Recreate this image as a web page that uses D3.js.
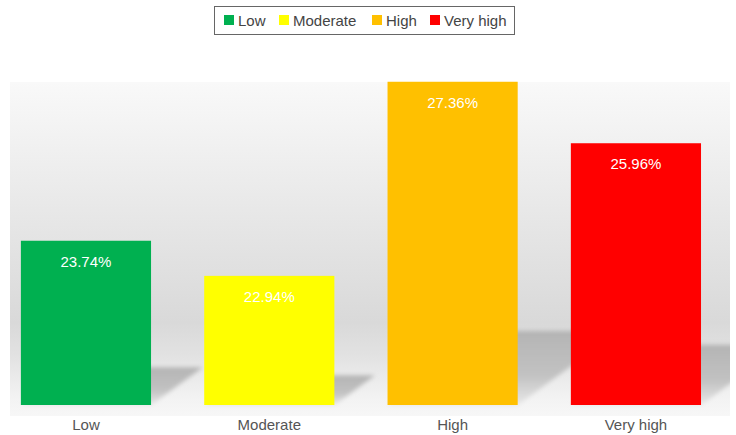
<!DOCTYPE html>
<html>
<head>
<meta charset="utf-8">
<script src="https://cdn.jsdelivr.net/npm/d3@7"></script>
<style>
  body { margin: 0; background: #fff; }
  svg { display: block; font-family: "Liberation Sans", Arial, sans-serif; }
</style>
</head>
<body>
<svg width="736" height="435"></svg>
<script>
var categories = ["Low", "Moderate", "High", "Very high"];
var values = [23.74, 22.94, 27.36, 25.96];
var colors = ["#00b050", "#ffff00", "#ffc000", "#ff0000"];

var svg = d3.select("svg"),
    plot = {left: 10, right: 730, top: 82, bottom: 416},
    baseY = 405;

var x = d3.scaleBand()
    .domain(categories)
    .range([-5.7, 727.6])
    .paddingInner(0.29)
    .paddingOuter(0.145);

var y = d3.scaleLinear()
    .domain([20, 27.4])
    .range([baseY, 80]);

var defs = svg.append("defs");

var bg = defs.append("linearGradient")
    .attr("id", "bg").attr("x1", 0).attr("y1", 0).attr("x2", 0).attr("y2", 1);
[[0, "#f9f9f9"], [0.72, "#d9d9d9"], [0.82, "#e2e2e2"], [0.95, "#f3f3f3"], [1, "#f7f7f7"]]
  .forEach(function(s) { bg.append("stop").attr("offset", s[0]).attr("stop-color", s[1]); });

var sh = defs.append("linearGradient")
    .attr("id", "sh").attr("x1", 0).attr("y1", 0).attr("x2", 0).attr("y2", 1);
[[0, "#b4b4b4"], [0.6, "#c2c2c2"], [1, "#e8e8e8"]]
  .forEach(function(s) { sh.append("stop").attr("offset", s[0]).attr("stop-color", s[1]); });

defs.append("filter").attr("id", "blur")
    .attr("x", -0.2).attr("y", -0.2).attr("width", 1.4).attr("height", 1.4)
  .append("feGaussianBlur").attr("stdDeviation", 2);

defs.append("clipPath").attr("id", "clip")
  .append("rect")
    .attr("x", plot.left).attr("y", plot.top)
    .attr("width", plot.right - plot.left).attr("height", plot.bottom - plot.top);

svg.append("rect")
    .attr("x", plot.left).attr("y", plot.top)
    .attr("width", plot.right - plot.left).attr("height", plot.bottom - plot.top)
    .attr("fill", "url(#bg)");

// shadows: bar squashed and sheared to the right
var g = svg.append("g").attr("clip-path", "url(#clip)");
g.selectAll("path.shadow")
    .data(values)
  .enter().append("path")
    .attr("class", "shadow")
    .attr("fill", "url(#sh)")
    .attr("filter", "url(#blur)")
    .attr("d", function(d, i) {
      var x0 = x(categories[i]), x1 = x0 + x.bandwidth(),
          h = (baseY - y(d)) * 0.23, k = 1.37;
      return "M" + x0 + "," + baseY + "L" + x1 + "," + baseY +
             "L" + (x1 + k * h) + "," + (baseY - h) +
             "L" + (x0 + k * h) + "," + (baseY - h) + "Z";
    });

svg.selectAll("rect.bar")
    .data(values)
  .enter().append("rect")
    .attr("class", "bar")
    .attr("x", function(d, i) { return x(categories[i]); })
    .attr("y", function(d) { return y(d); })
    .attr("width", x.bandwidth())
    .attr("height", function(d) { return baseY - y(d); })
    .attr("fill", function(d, i) { return colors[i]; });

svg.selectAll("text.val")
    .data(values)
  .enter().append("text")
    .attr("class", "val")
    .attr("x", function(d, i) { return x(categories[i]) + x.bandwidth() / 2; })
    .attr("y", function(d) { return y(d) + 26; })
    .attr("text-anchor", "middle")
    .attr("fill", "#fff")
    .attr("font-size", 15)
    .text(function(d) { return d.toFixed(2) + "%"; });

svg.append("g")
    .attr("transform", "translate(0," + baseY + ")")
    .call(d3.axisBottom(x).tickSize(0).tickPadding(14))
    .call(function(a) { a.select(".domain").remove(); })
    .selectAll("text")
    .attr("font-size", 15)
    .attr("font-family", "Liberation Sans, Arial, sans-serif")
    .attr("fill", "#555");

// legend
var legend = svg.append("g");
legend.append("rect")
    .attr("x", 214.5).attr("y", 6.5).attr("width", 300).attr("height", 28)
    .attr("fill", "#fff").attr("stroke", "#666");
var legendX = [224, 279, 372, 430];
var items = legend.selectAll("g.item")
    .data(categories)
  .enter().append("g")
    .attr("class", "item")
    .attr("transform", function(d, i) { return "translate(" + legendX[i] + ",0)"; });
items.append("rect")
    .attr("x", 0).attr("y", 15).attr("width", 10).attr("height", 10)
    .attr("fill", function(d, i) { return colors[i]; });
items.append("text")
    .attr("x", 14).attr("y", 25.5)
    .attr("font-size", 15)
    .attr("fill", "#444")
    .text(function(d) { return d; });
</script>
</body>
</html>
